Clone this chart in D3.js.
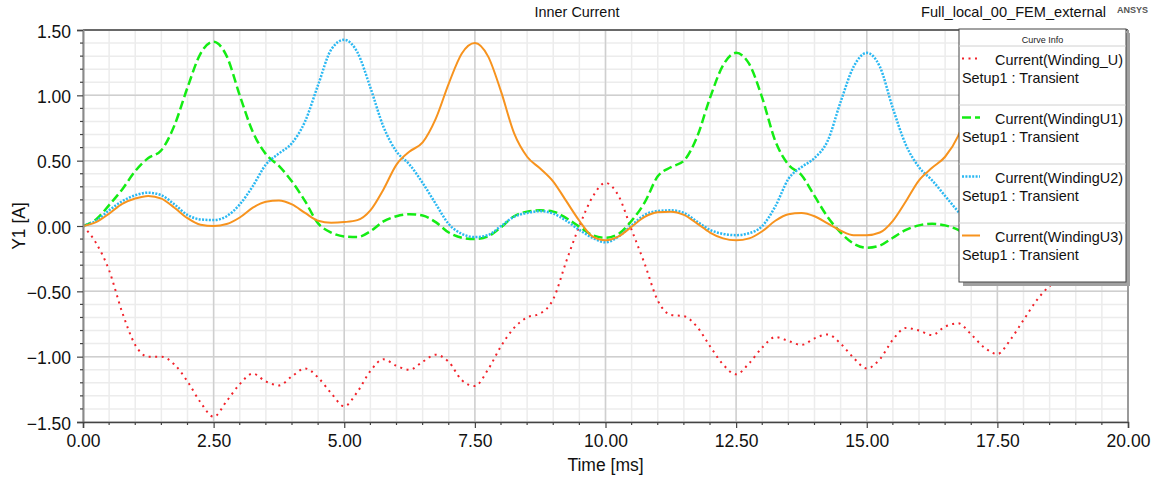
<!DOCTYPE html>
<html>
<head>
<meta charset="utf-8">
<script src="https://cdn.jsdelivr.net/npm/d3@7"></script>
<style>
  body { margin: 0; background: #fff; }
  svg { display: block; font-family: "Liberation Sans", Arial, sans-serif; }
</style>
</head>
<body>
<svg id="chart"></svg>
<script>
const width = 1155;
const height = 482;

// Time axis samples [ms]
const time = d3.range(0, 81).map(i => i * 0.25);

// Current(Winding_U) [A]
const windingU = [
  0, -0.13, -0.34, -0.66, -0.91, -1.0, -1.0, -1.06, -1.19, -1.35, -1.46,
  -1.34, -1.21, -1.13, -1.19, -1.22, -1.15, -1.09, -1.16, -1.28, -1.38,
  -1.27, -1.11, -1.02, -1.07, -1.10, -1.04, -0.985, -1.04, -1.18, -1.225,
  -1.10, -0.92, -0.78, -0.70, -0.67, -0.56, -0.27, 0.0, 0.22, 0.33,
  0.23, -0.03, -0.29, -0.57, -0.68, -0.69, -0.77, -0.92, -1.06, -1.135,
  -1.05, -0.93, -0.85, -0.88, -0.91, -0.86, -0.83, -0.90, -1.01, -1.09,
  -1.02, -0.87, -0.78, -0.80, -0.835, -0.77, -0.745, -0.83, -0.93, -0.98,
  -0.87, -0.72, -0.57, -0.46, -0.41, -0.33, -0.22, -0.12, -0.04, 0.0
];

// Current(WindingU1) [A]
const windingU1 = [
  0, 0.05, 0.16, 0.28, 0.42, 0.52, 0.58, 0.77, 1.06, 1.32, 1.41,
  1.30, 1.0, 0.72, 0.55, 0.46, 0.34, 0.19, 0.02, -0.05, -0.08,
  -0.085, -0.04, 0.035, 0.075, 0.09, 0.08, 0.03, -0.05, -0.09, -0.10,
  -0.08, -0.01, 0.075, 0.11, 0.12, 0.11, 0.06, -0.005, -0.07, -0.09,
  -0.06, 0.04, 0.18, 0.38, 0.45, 0.50, 0.68, 0.98, 1.23, 1.325,
  1.24, 0.98, 0.65, 0.47, 0.39, 0.23, 0.07, -0.05, -0.135, -0.167,
  -0.15, -0.09, -0.03, 0.005, 0.017, 0.005, -0.03, -0.09, -0.15, -0.17,
  -0.14, -0.07, 0.0, 0.03, 0.03, 0.0, -0.06, -0.12, -0.16, -0.16
];

// Current(WindingU2) [A]
const windingU2 = [
  0, 0.04, 0.12, 0.19, 0.235, 0.255, 0.235, 0.165, 0.085, 0.05, 0.045,
  0.075, 0.165, 0.305, 0.47, 0.555, 0.635, 0.80, 1.08, 1.35, 1.425,
  1.33, 1.06, 0.76, 0.57, 0.47, 0.33, 0.17, 0.015, -0.06, -0.085,
  -0.07, 0.0, 0.07, 0.10, 0.114, 0.095, 0.04, -0.03, -0.09, -0.125,
  -0.08, 0.005, 0.085, 0.115, 0.12, 0.10, 0.035, -0.03, -0.06, -0.07,
  -0.055, 0.0, 0.15, 0.36, 0.45, 0.52, 0.65, 0.95, 1.22, 1.325,
  1.22, 0.90, 0.62, 0.45, 0.35, 0.23, 0.11, 0.0, -0.09, -0.14,
  -0.12, -0.06, 0.0, 0.03, 0.035, 0.01, -0.05, -0.11, -0.15, -0.17
];

// Current(WindingU3) [A]
const windingU3 = [
  0, 0.03, 0.095, 0.17, 0.21, 0.23, 0.21, 0.14, 0.06, 0.01, 0.0,
  0.015, 0.065, 0.14, 0.185, 0.195, 0.165, 0.10, 0.04, 0.025, 0.03,
  0.045, 0.12, 0.28, 0.47, 0.57, 0.64, 0.82, 1.09, 1.32, 1.40,
  1.30, 1.03, 0.71, 0.53, 0.44, 0.34, 0.19, 0.04, -0.08, -0.11,
  -0.08, -0.005, 0.07, 0.105, 0.11, 0.085, 0.02, -0.05, -0.095, -0.11,
  -0.095, -0.04, 0.04, 0.09, 0.10, 0.075, 0.02, -0.035, -0.07, -0.07,
  -0.05, 0.04, 0.19, 0.35, 0.445, 0.53, 0.69, 0.97, 1.23, 1.33,
  1.22, 0.95, 0.65, 0.48, 0.40, 0.28, 0.12, -0.03, -0.13, -0.16
];

const seriesNames = ["Current(Winding_U)", "Current(WindingU1)", "Current(WindingU2)", "Current(WindingU3)"];
const xTicks = [0, 2.5, 5, 7.5, 10, 12.5, 15, 17.5, 20];
const yTicks = [-1.5, -1.0, -0.5, 0, 0.5, 1.0, 1.5];

// Line styles per series
const styles = [
  { color: "#f2222a", dash: "2 4.5", width: 2 },
  { color: "#14ec14", dash: "9 4", width: 2.5 },
  { color: "#2ab8f2", dash: "2 1.4", width: 2.5 },
  { color: "#f7931e", dash: null, width: 2 }
];

const margin = { top: 30, right: 27, bottom: 60, left: 83 };
const plotW = width - margin.left - margin.right;
const plotH = height - margin.top - margin.bottom;

const svg = d3.select("#chart")
    .attr("width", width)
    .attr("height", height);

const g = svg.append("g")
    .attr("transform", `translate(${margin.left},${margin.top})`);

const x = d3.scaleLinear().domain([0, 20]).range([0, plotW]);
const y = d3.scaleLinear().domain([-1.5, 1.5]).range([plotH, 0]);

// Minor grid
g.append("g").selectAll("line")
    .data(d3.range(0, 20.01, 0.5))
    .enter().append("line")
    .attr("x1", d => x(d)).attr("x2", d => x(d))
    .attr("y1", 0).attr("y2", plotH)
    .attr("stroke", "#ececec").attr("stroke-width", 1.5);

g.append("g").selectAll("line")
    .data(d3.range(-15, 16).map(d => d / 10))
    .enter().append("line")
    .attr("x1", 0).attr("x2", plotW)
    .attr("y1", d => y(d)).attr("y2", d => y(d))
    .attr("stroke", "#ececec").attr("stroke-width", 1.5);

// Major grid
g.append("g").selectAll("line")
    .data(xTicks)
    .enter().append("line")
    .attr("x1", d => x(d)).attr("x2", d => x(d))
    .attr("y1", 0).attr("y2", plotH)
    .attr("stroke", "#cfcfcf").attr("stroke-width", 1.5);

g.append("g").selectAll("line")
    .data(yTicks)
    .enter().append("line")
    .attr("x1", 0).attr("x2", plotW)
    .attr("y1", d => y(d)).attr("y2", d => y(d))
    .attr("stroke", "#cfcfcf").attr("stroke-width", 1.5);

// Curves
g.append("clipPath").attr("id", "clip")
  .append("rect").attr("width", plotW).attr("height", plotH);

const allSeries = [windingU, windingU1, windingU2, windingU3];
const line = d3.line()
    .x((d, i) => x(time[i]))
    .y(d => y(d))
    .curve(d3.curveMonotoneX);

const curves = g.append("g").attr("clip-path", "url(#clip)");
allSeries.forEach((vals, i) => {
  curves.append("path")
      .attr("d", line(vals))
      .attr("fill", "none")
      .attr("stroke", styles[i].color)
      .attr("stroke-width", styles[i].width)
      .attr("stroke-dasharray", styles[i].dash);
});

// Frame: top, right
g.append("line").attr("x1", 0).attr("x2", plotW).attr("y1", 0).attr("y2", 0)
    .attr("stroke", "#444").attr("stroke-width", 1.5);
g.append("line").attr("x1", plotW).attr("x2", plotW).attr("y1", 0).attr("y2", plotH)
    .attr("stroke", "#9a9a9a").attr("stroke-width", 2);

// Y axis
const yAxis = g.append("g")
    .call(d3.axisLeft(y).tickValues(yTicks).tickFormat(d3.format(".2f")).tickSize(6).tickPadding(6));
yAxis.select(".domain").attr("stroke", "#8a8a8a").attr("stroke-width", 2);
yAxis.selectAll(".tick line").attr("stroke", "#444").attr("stroke-width", 1.2);
yAxis.selectAll("text").attr("font-size", 17.5).attr("fill", "#111").attr("dy", "0.4em");

g.append("g").selectAll("line")
    .data(d3.range(-15, 16).filter(d => d % 5 !== 0).map(d => d / 10))
    .enter().append("line")
    .attr("x1", -3).attr("x2", 0)
    .attr("y1", d => y(d)).attr("y2", d => y(d))
    .attr("stroke", "#444").attr("stroke-width", 1.2);

// X axis
const xAxis = g.append("g")
    .attr("transform", `translate(0,${plotH})`)
    .call(d3.axisBottom(x).tickValues(xTicks).tickFormat(d3.format(".2f")).tickSize(6).tickPadding(7));
xAxis.select(".domain").attr("stroke", "#444").attr("stroke-width", 1.5);
xAxis.selectAll(".tick line").attr("stroke", "#444").attr("stroke-width", 1.2);
xAxis.selectAll("text").attr("font-size", 17.5).attr("fill", "#111");

g.append("g").selectAll("line")
    .data(d3.range(0, 41).filter(d => d % 5 !== 0).map(d => d / 2))
    .enter().append("line")
    .attr("x1", d => x(d)).attr("x2", d => x(d))
    .attr("y1", plotH).attr("y2", plotH + 3)
    .attr("stroke", "#444").attr("stroke-width", 1.2);

// Axis titles
svg.append("text")
    .attr("x", margin.left + plotW / 2).attr("y", 471)
    .attr("text-anchor", "middle").attr("font-size", 17.5).attr("fill", "#111")
    .text("Time [ms]");

svg.append("text")
    .attr("transform", `translate(25,${margin.top + plotH / 2}) rotate(-90)`)
    .attr("text-anchor", "middle").attr("font-size", 17.5).attr("fill", "#111")
    .text("Y1 [A]");

// Titles
svg.append("text")
    .attr("x", 577).attr("y", 17)
    .attr("text-anchor", "middle").attr("font-size", 14.4).attr("fill", "#111")
    .text("Inner Current");

svg.append("text")
    .attr("x", 1106).attr("y", 17)
    .attr("text-anchor", "end").attr("font-size", 14.6).attr("fill", "#111")
    .text("Full_local_00_FEM_external");

svg.append("text")
    .attr("x", 1117).attr("y", 13)
    .attr("font-size", 9).attr("font-weight", "bold").attr("fill", "#555")
    .text("ANSYS");

// Legend
const lx = 959, ly = 29, lw = 167, lh = 253, rowH = 59;
const legend = svg.append("g");
legend.append("rect")
    .attr("x", lx + 4).attr("y", ly + 4).attr("width", lw).attr("height", lh)
    .attr("fill", "#a0a0a0");
legend.append("rect")
    .attr("x", lx).attr("y", ly).attr("width", lw).attr("height", lh)
    .attr("fill", "#fff").attr("stroke", "#444").attr("stroke-width", 1);
legend.append("text")
    .attr("x", lx + lw / 2).attr("y", ly + 14)
    .attr("text-anchor", "middle").attr("font-size", 9).attr("fill", "#222")
    .text("Curve Info");

seriesNames.forEach((name, i) => {
  const top = ly + 17 + i * rowH;
  legend.append("line")
      .attr("x1", lx).attr("x2", lx + lw).attr("y1", top).attr("y2", top)
      .attr("stroke", "#d0d0d0").attr("stroke-width", 1);
  legend.append("line")
      .attr("x1", lx + 3).attr("x2", lx + 21)
      .attr("y1", top + 12.5).attr("y2", top + 12.5)
      .attr("stroke", styles[i].color)
      .attr("stroke-width", styles[i].width)
      .attr("stroke-dasharray", styles[i].dash);
  legend.append("text")
      .attr("x", lx + lw - 3).attr("y", top + 19)
      .attr("text-anchor", "end").attr("font-size", 14.4).attr("fill", "#111")
      .text(name);
  legend.append("text")
      .attr("x", lx + 3).attr("y", top + 37)
      .attr("font-size", 14.4).attr("fill", "#111")
      .text("Setup1 : Transient");
});
</script>
</body>
</html>
